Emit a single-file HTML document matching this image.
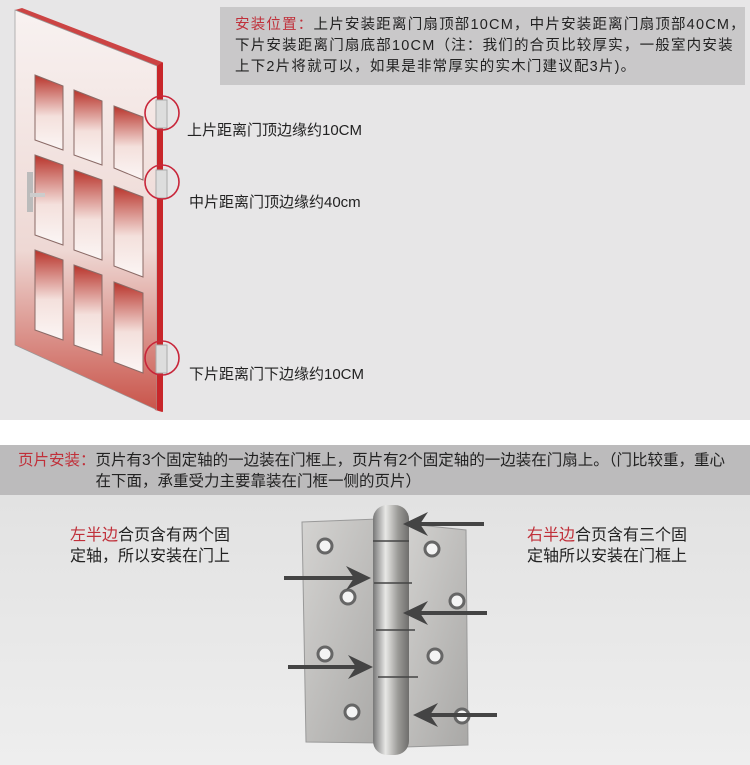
<!DOCTYPE html>
<html><head><meta charset="utf-8"><style>
body{margin:0;width:750px;height:765px;overflow:hidden;font-family:"Liberation Sans","Noto Sans CJK SC",sans-serif;position:relative;background:#fff}
.t{position:absolute;white-space:nowrap;color:#222}
.r{color:#c0303a}
</style></head><body>
<div style="position:absolute;left:0;top:0;width:750px;height:420px;background:#e7e6e7"></div>
<div style="position:absolute;left:0;top:445px;width:750px;height:50px;background:#bcbbbc"></div>
<div style="position:absolute;left:0;top:495px;width:750px;height:270px;background:linear-gradient(#e2e2e2,#eeeeee)"></div>
<div style="position:absolute;left:220px;top:7px;width:525px;height:78px;background:#c9c8c9"></div>
<div class="t" style="left:235px;top:15px;font-size:14.5px;line-height:21px;letter-spacing:1.2px"><span class="r">安装位置：</span>上片安装距离门扇顶部10CM，中片安装距离门扇顶部40CM，<br>下片安装距离门扇底部10CM（注：我们的合页比较厚实，一般室内安装<br>上下2片将就可以，如果是非常厚实的实木门建议配3片)。</div>
<svg style="position:absolute;left:0;top:0" width="750" height="420">
<defs><linearGradient id="g" x1="0" y1="0" x2="0" y2="1"><stop offset="0" stop-color="#b8332a"/><stop offset="0.55" stop-color="#f4e0dc"/><stop offset="1" stop-color="#fbf6f5"/></linearGradient>
<linearGradient id="d" x1="0" y1="0" x2="0" y2="1"><stop offset="0" stop-color="#f8f2f1"/><stop offset="0.6" stop-color="#eed8d4"/><stop offset="1" stop-color="#c9544a"/></linearGradient></defs>
<polygon points="15,10 22,8 162,62 162,412 155,410" fill="#c44"/>
<polygon points="15,10 157,66 157,410 15,345" fill="url(#d)" stroke="#999" stroke-width="0.7"/>
<polygon points="157,66 163,62 163,412 157,410" fill="#c8262a"/>
<g fill="url(#g)" stroke="#8a6a66" stroke-width="1">
<polygon points="35,75 63,86 63,150 35,140"/><polygon points="74,90 102,101 102,165 74,155"/><polygon points="114,106 143,117 143,180 114,168"/>
<polygon points="35,155 63,165 63,245 35,235"/><polygon points="74,170 102,180 102,260 74,250"/><polygon points="114,186 143,197 143,277 114,266"/>
<polygon points="35,250 63,260 63,340 35,330"/><polygon points="74,265 102,275 102,355 74,345"/><polygon points="114,282 143,293 143,373 114,362"/>
</g>
<rect x="27" y="172" width="6" height="40" fill="#bbb"/><rect x="30" y="193" width="15" height="4" fill="#ccc"/>
<g fill="#ddd" stroke="#aaa"><rect x="156" y="100" width="11" height="28"/><rect x="156" y="170" width="11" height="28"/><rect x="156" y="345" width="11" height="28"/></g>
<g fill="none" stroke="#c8263a" stroke-width="1.6"><circle cx="162" cy="113" r="17"/><circle cx="162" cy="182" r="17"/><circle cx="162" cy="358" r="17"/></g>
</svg>
<div class="t" style="left:187px;top:119px;font-size:15px">上片距离门顶边缘约10CM</div>
<div class="t" style="left:189px;top:191px;font-size:15px">中片距离门顶边缘约40cm</div>
<div class="t" style="left:189px;top:363px;font-size:15px">下片距离门下边缘约10CM</div>
<div class="t" style="left:18px;top:450px;font-size:15.5px;line-height:21px"><span class="r">页片安装：</span>页片有3个固定轴的一边装在门框上，页片有2个固定轴的一边装在门扇上。（门比较重，重心<br><span style="padding-left:5em">在下面，承重受力主要靠装在门框一侧的页片）</span></div>
<div class="t" style="left:70px;top:525px;font-size:16px;line-height:21px"><span class="r">左半边</span>合页含有两个固<br>定轴，所以安装在门上</div>
<div class="t" style="left:527px;top:525px;font-size:16px;line-height:21px"><span class="r">右半边</span>合页含有三个固<br>定轴所以安装在门框上</div>
<svg style="position:absolute;left:0;top:495px" width="750" height="270">
<defs><linearGradient id="p" x1="0" y1="0" x2="1" y2="1"><stop offset="0" stop-color="#d4d3d1"/><stop offset="1" stop-color="#a9a8a6"/></linearGradient>
<linearGradient id="b" x1="0" y1="0" x2="1" y2="0"><stop offset="0" stop-color="#777"/><stop offset="0.35" stop-color="#e8e8e6"/><stop offset="0.7" stop-color="#9a9996"/><stop offset="1" stop-color="#6f6e6c"/></linearGradient></defs>
<polygon points="302,27 378,24 383,248 306,247" fill="url(#p)" stroke="#999"/>
<polygon points="400,28 466,35 468,250 405,252" fill="url(#p)" stroke="#999"/>
<rect x="373" y="10" width="36" height="250" rx="14" fill="url(#b)"/>
<g stroke="#444" stroke-width="1.5"><line x1="373" y1="46" x2="409" y2="46"/><line x1="374" y1="88" x2="412" y2="88"/><line x1="376" y1="135" x2="415" y2="135"/><line x1="378" y1="182" x2="418" y2="182"/></g>
<g fill="#f4f4f4" stroke="#666" stroke-width="3"><circle cx="325" cy="51" r="7"/><circle cx="348" cy="102" r="7"/><circle cx="325" cy="159" r="7"/><circle cx="352" cy="217" r="7"/><circle cx="432" cy="54" r="7"/><circle cx="457" cy="106" r="7"/><circle cx="435" cy="161" r="7"/><circle cx="462" cy="221" r="7"/></g>
<g stroke="#444" stroke-width="4" fill="#444">
<line x1="484" y1="29" x2="412" y2="29"/><polygon points="403,29 428,17 420,29 428,41" stroke="none"/>
<line x1="284" y1="83" x2="362" y2="83"/><polygon points="371,83 346,71 354,83 346,95" stroke="none"/>
<line x1="487" y1="118" x2="412" y2="118"/><polygon points="403,118 428,106 420,118 428,130" stroke="none"/>
<line x1="288" y1="172" x2="364" y2="172"/><polygon points="373,172 348,160 356,172 348,184" stroke="none"/>
<line x1="497" y1="220" x2="422" y2="220"/><polygon points="413,220 438,208 430,220 438,232" stroke="none"/>
</g>
</svg>
</body></html>
